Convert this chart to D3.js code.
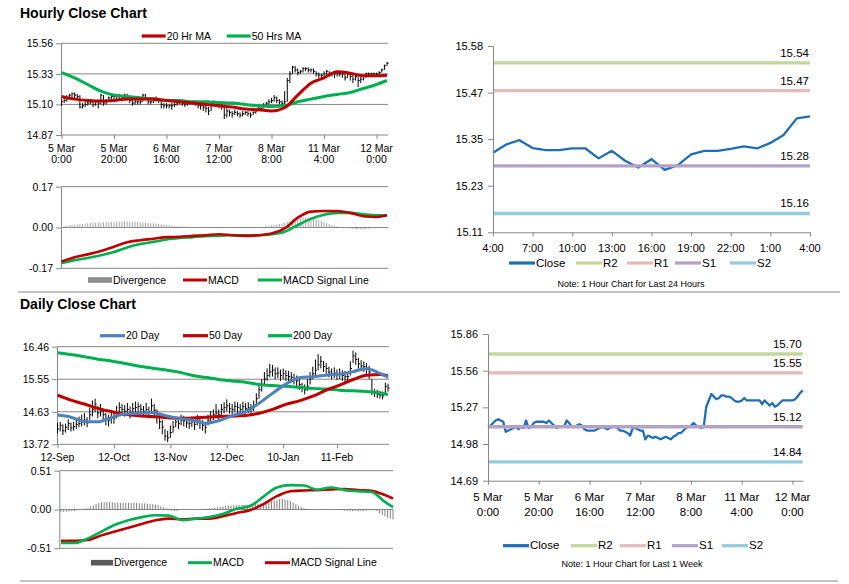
<!DOCTYPE html>
<html><head><meta charset="utf-8">
<script src="https://cdn.jsdelivr.net/npm/d3@7"></script>
<style>body{margin:0;background:#fff}svg{display:block}</style>
</head><body><svg id="c" width="849" height="584"></svg>
<script>
// ---------------- DATA ----------------
// Hourly (last week, 125 hourly bars)
const hourTickIdx = [0, 20, 40, 60, 80, 100, 120];
const hourTickLabels = [["5 Mar","0:00"],["5 Mar","20:00"],["6 Mar","16:00"],["7 Mar","12:00"],["8 Mar","8:00"],["11 Mar","4:00"],["12 Mar","0:00"]];
const weekClose = [15.12,15.13,15.15,15.17,15.18,15.17,15.16,15.08,15.09,15.10,
15.11,15.12,15.10,15.12,15.11,15.17,15.11,15.12,15.15,15.16,
15.16,15.16,15.16,15.15,15.17,15.15,15.13,15.11,15.12,15.12,
15.12,15.17,15.15,15.12,15.12,15.13,15.14,15.13,15.10,15.09,
15.09,15.09,15.09,15.10,15.11,15.12,15.11,15.10,15.11,15.12,
15.12,15.11,15.09,15.09,15.08,15.07,15.05,15.11,15.11,15.10,
15.09,15.09,15.02,15.05,15.04,15.03,15.04,15.03,15.02,15.03,
15.04,15.03,15.02,15.04,15.05,15.07,15.07,15.09,15.11,15.12,
15.13,15.15,15.13,15.12,15.11,15.12,15.28,15.33,15.38,15.36,
15.34,15.35,15.37,15.37,15.36,15.36,15.35,15.33,15.32,15.32,
15.33,15.35,15.33,15.33,15.33,15.33,15.33,15.33,15.30,15.33,
15.31,15.29,15.31,15.28,15.29,15.31,15.33,15.33,15.33,15.33,
15.33,15.34,15.36,15.39,15.41];
const hourHigh = [15.14,15.15,15.17,15.18,15.19,15.19,15.18,15.17,15.11,15.12,
15.13,15.14,15.13,15.13,15.13,15.18,15.17,15.14,15.16,15.17,
15.18,15.17,15.18,15.17,15.18,15.18,15.16,15.14,15.14,15.13,
15.14,15.18,15.18,15.15,15.14,15.15,15.16,15.15,15.13,15.11,
15.11,15.10,15.11,15.11,15.12,15.13,15.13,15.12,15.12,15.13,
15.13,15.13,15.12,15.10,15.10,15.09,15.08,15.12,15.13,15.12,
15.11,15.11,15.10,15.07,15.06,15.05,15.06,15.05,15.04,15.05,
15.05,15.05,15.04,15.05,15.07,15.08,15.09,15.11,15.12,15.14,
15.15,15.17,15.16,15.14,15.13,15.20,15.30,15.35,15.39,15.39,
15.37,15.36,15.38,15.38,15.38,15.37,15.37,15.35,15.34,15.33,
15.35,15.36,15.35,15.34,15.34,15.35,15.34,15.34,15.33,15.34,
15.33,15.32,15.32,15.31,15.31,15.32,15.34,15.34,15.34,15.34,
15.34,15.35,15.37,15.40,15.42];
const hourLow = [15.09,15.11,15.12,15.14,15.15,15.14,15.14,15.07,15.07,15.08,
15.09,15.10,15.08,15.09,15.07,15.10,15.09,15.10,15.12,15.13,
15.14,15.14,15.13,15.13,15.14,15.13,15.11,15.09,15.10,15.10,
15.10,15.12,15.13,15.10,15.10,15.11,15.12,15.11,15.07,15.07,
15.07,15.07,15.06,15.08,15.09,15.10,15.09,15.08,15.09,15.10,
15.10,15.09,15.07,15.06,15.05,15.04,15.02,15.05,15.09,15.08,
15.07,15.06,14.99,15.00,15.01,15.00,15.02,15.01,15.00,15.01,
15.02,15.01,15.00,15.02,15.03,15.05,15.05,15.07,15.09,15.10,
15.11,15.12,15.11,15.10,15.09,15.10,15.12,15.26,15.33,15.34,
15.32,15.33,15.34,15.35,15.34,15.34,15.33,15.31,15.30,15.30,
15.31,15.32,15.31,15.31,15.30,15.31,15.31,15.30,15.28,15.30,
15.28,15.26,15.28,15.23,15.26,15.28,15.30,15.31,15.31,15.31,
15.31,15.32,15.34,15.36,15.39];
// moving averages / MACD sampled every 5 hours
const hourSampleIdx = [0,5,10,15,20,25,30,35,40,45,50,55,60,65,70,75,80,85,90,95,100,105,110,115,120,124];
const ma20h = [15.16,15.14,15.13,15.125,15.13,15.14,15.14,15.14,15.13,15.12,15.11,15.10,15.09,15.08,15.065,15.06,15.05,15.075,15.17,15.26,15.30,15.345,15.335,15.315,15.315,15.32];
const ma50h = [15.34,15.30,15.25,15.20,15.17,15.16,15.15,15.14,15.13,15.13,15.12,15.12,15.115,15.11,15.10,15.09,15.085,15.09,15.12,15.14,15.16,15.175,15.19,15.22,15.25,15.28];
const macdH = [-0.142,-0.124,-0.112,-0.098,-0.080,-0.061,-0.053,-0.047,-0.040,-0.039,-0.035,-0.032,-0.028,-0.032,-0.035,-0.032,-0.025,-0.004,0.041,0.066,0.069,0.069,0.061,0.047,0.044,0.051];
const signalH = [-0.148,-0.136,-0.127,-0.116,-0.102,-0.083,-0.069,-0.060,-0.050,-0.044,-0.040,-0.036,-0.035,-0.032,-0.032,-0.032,-0.028,-0.018,0.010,0.036,0.053,0.061,0.061,0.055,0.051,0.051];
const divH = [0.004,0.006,0.008,0.010,0.011,0.012,0.013,0.014,0.015,0.016,
0.018,0.019,0.020,0.020,0.021,0.021,0.022,0.022,0.023,0.023,
0.024,0.025,0.025,0.026,0.026,0.025,0.025,0.024,0.024,0.023,
0.022,0.021,0.020,0.019,0.018,0.017,0.016,0.015,0.013,0.012,
0.010,0.009,0.008,0.007,0.006,0.005,0.004,0.004,0.003,0.003,
0.002,0.002,0.002,0.003,0.003,0.002,0.001,0.002,0.003,0.002,
0.001,0.000,-0.001,-0.002,-0.002,-0.002,-0.003,-0.002,-0.002,-0.002,
-0.001,-0.001,0.000,0.001,0.001,0.002,0.002,0.003,0.005,0.007,
0.009,0.011,0.013,0.015,0.017,0.019,0.024,0.028,0.032,0.035,
0.038,0.040,0.042,0.043,0.044,0.042,0.039,0.035,0.031,0.027,
0.023,0.019,0.015,0.011,0.008,0.005,0.002,0.000,-0.002,-0.003,
-0.005,-0.006,-0.007,-0.008,-0.008,-0.008,-0.007,-0.006,-0.005,-0.004,
-0.003,-0.002,-0.002,-0.001,0.000];
const hourPriceTicks = [14.87, 15.10, 15.33, 15.56];
const hourPriceLabels = ["14.87","15.10","15.33","15.56"];
const hourMacdTicks = [-0.17, 0, 0.17];
const hourMacdLabels = ["-0.17","0.00","0.17"];

// Last 24 hours
const dayClose = [15.313,15.334,15.345,15.325,15.320,15.320,15.324,15.324,15.299,15.318,15.293,15.276,15.297,15.270,15.282,15.309,15.318,15.318,15.323,15.329,15.324,15.338,15.358,15.400,15.405];
const dayTickIdx = [0,3,6,9,12,15,18,21,24];
const dayTickLabels = ["4:00","7:00","10:00","13:00","16:00","19:00","22:00","1:00","4:00"];
const pivotNames = ["R2","R1","S1","S2"];
const pivot24 = [15.54, 15.47, 15.28, 15.16];
const pivotWeek = [15.70, 15.55, 15.12, 14.84];
const pivot24Ticks = [15.1125, 15.23, 15.3475, 15.465, 15.5825];
const pivot24Labels = ["15.11","15.23","15.35","15.47","15.58"];
const pivotWeekTicks = [14.69, 14.9825, 15.275, 15.5675, 15.86];
const pivotWeekLabels = ["14.69","14.98","15.27","15.56","15.86"];

// Daily (124 sessions)
const dailyTickIdx = [0, 21, 42, 63, 84, 104];
const dailyTickLabels = ["12-Sep","12-Oct","13-Nov","12-Dec","10-Jan","11-Feb"];
const dailyClose = [14.15,14.25,14.10,14.20,14.30,14.18,14.22,14.28,14.30,14.35,
14.40,14.32,14.55,14.70,14.85,14.60,14.65,14.55,14.45,14.40,
14.50,14.45,14.60,14.75,14.70,14.65,14.70,14.60,14.72,14.75,
14.78,14.70,14.65,14.70,14.60,14.80,14.68,14.50,14.35,14.20,
13.95,13.90,14.05,14.20,14.35,14.30,14.40,14.38,14.32,14.30,
14.35,14.28,14.40,14.30,14.25,14.20,14.40,14.50,14.55,14.60,
14.55,14.70,14.75,14.80,14.72,14.70,14.78,14.75,14.70,14.78,
14.72,14.75,14.70,14.80,15.00,15.25,15.40,15.55,15.65,15.75,
15.80,15.70,15.72,15.65,15.70,15.65,15.62,15.60,15.55,15.50,
15.40,15.30,15.25,15.35,15.55,15.70,15.80,15.95,16.05,15.90,
15.85,15.75,15.70,15.72,15.68,15.70,15.65,15.62,15.62,15.85,
16.20,16.10,15.98,15.92,15.90,15.85,15.75,15.20,15.15,15.12,
15.10,15.08,15.35,15.30];
const dailyHigh = [14.32,14.35,14.28,14.30,14.42,14.33,14.35,14.45,14.50,14.55,
14.60,14.48,14.75,14.95,15.00,14.80,14.85,14.72,14.60,14.55,
14.65,14.62,14.80,14.90,14.85,14.82,14.88,14.78,14.88,14.92,
14.90,14.85,14.80,14.88,14.78,15.00,14.85,14.70,14.55,14.40,
14.15,14.10,14.25,14.38,14.50,14.45,14.55,14.52,14.48,14.45,
14.50,14.42,14.55,14.45,14.40,14.35,14.55,14.65,14.70,14.85,
14.70,14.85,14.90,14.98,14.88,14.85,14.92,14.90,14.85,14.92,
14.88,14.90,14.85,14.95,15.15,15.40,15.55,15.75,15.85,15.98,
15.95,15.88,15.88,15.82,15.85,15.80,15.78,15.75,15.70,15.65,
15.55,15.45,15.40,15.55,15.75,15.90,16.10,16.25,16.20,16.05,
16.00,15.90,15.85,15.88,15.82,15.85,15.80,15.78,15.75,16.05,
16.35,16.30,16.15,16.08,16.05,16.00,15.92,15.55,15.28,15.25,
15.22,15.20,15.45,15.42];
const dailyLow = [14.02,14.08,13.98,14.05,14.12,14.08,14.10,14.15,14.20,14.22,
14.25,14.20,14.40,14.50,14.62,14.45,14.50,14.40,14.25,14.22,
14.30,14.30,14.45,14.55,14.55,14.50,14.52,14.45,14.55,14.58,
14.60,14.55,14.48,14.55,14.45,14.62,14.45,14.30,14.15,14.00,
13.82,13.78,13.90,14.05,14.20,14.15,14.25,14.22,14.18,14.15,
14.20,14.12,14.25,14.15,14.10,14.02,14.25,14.35,14.40,14.45,
14.40,14.55,14.60,14.65,14.58,14.55,14.62,14.60,14.58,14.62,
14.58,14.60,14.58,14.65,14.80,15.00,15.20,15.40,15.50,15.60,
15.62,15.55,15.58,15.50,15.55,15.50,15.48,15.45,15.40,15.35,
15.25,15.18,15.12,15.22,15.40,15.55,15.65,15.80,15.85,15.75,
15.70,15.60,15.55,15.58,15.52,15.55,15.50,15.45,15.48,15.65,
16.00,15.95,15.85,15.78,15.75,15.70,15.55,15.10,15.05,15.02,
15.00,14.98,15.15,15.20];
const dailySampleIdx = [0,5,10,15,20,25,30,35,40,45,50,55,60,65,70,75,80,85,90,95,100,105,110,115,120,123];
const ma20d = [14.54,14.48,14.36,14.35,14.47,14.57,14.59,14.61,14.53,14.45,14.40,14.31,14.38,14.52,14.64,14.87,15.15,15.41,15.59,15.62,15.66,15.69,15.76,15.85,15.71,15.60];
const ma50d = [15.10,14.96,14.85,14.73,14.64,14.56,14.52,14.50,14.47,14.45,14.46,14.48,14.50,14.51,14.53,14.59,14.70,14.84,14.94,15.07,15.24,15.38,15.54,15.66,15.68,15.64];
const ma200d = [16.29,16.24,16.18,16.11,16.06,15.99,15.92,15.86,15.81,15.75,15.66,15.60,15.54,15.50,15.46,15.40,15.37,15.35,15.32,15.29,15.27,15.24,15.22,15.20,15.16,15.12];
const macdD = [-0.44,-0.44,-0.38,-0.29,-0.20,-0.14,-0.10,-0.075,-0.08,-0.14,-0.12,-0.10,-0.06,0.01,0.045,0.17,0.29,0.32,0.315,0.26,0.29,0.255,0.24,0.23,0.10,0.03];
const signalD = [-0.41,-0.41,-0.40,-0.34,-0.29,-0.24,-0.19,-0.14,-0.12,-0.13,-0.12,-0.12,-0.09,-0.045,-0.01,0.07,0.175,0.24,0.25,0.255,0.265,0.27,0.255,0.245,0.19,0.145];
const divD = [-0.03,-0.03,-0.03,-0.028,-0.025,-0.02,
-0.01,0.005,0.01,0.015,0.02,
0.04,0.055,0.07,0.085,0.095,0.10,
0.10,0.098,0.095,0.09,0.09,0.088,0.09,0.088,0.09,0.085,0.088,0.085,0.082,0.08,0.08,0.075,0.072,0.07,0.065,0.06,
0.045,0.03,0.015,0.0,
-0.015,-0.02,-0.02,-0.01,
0.0,0.002,0.004,0.005,0.005,0.006,0.006,0.008,0.01,0.012,0.015,0.02,
0.025,0.03,0.035,0.04,0.045,0.05,0.05,0.055,0.055,0.06,0.06,0.058,0.06,0.062,0.065,
0.07,0.075,0.08,0.088,0.095,0.10,0.11,0.12,0.128,0.135,0.14,
0.135,0.125,0.11,0.09,0.07,0.05,0.035,0.02,0.01,
0.005,0.003,0.002,0.004,0.006,0.008,0.008,0.006,0.004,0.002,0.0,-0.005,-0.01,
-0.015,-0.02,-0.02,-0.022,-0.02,-0.02,-0.018,-0.02,-0.015,-0.01,
-0.01,-0.012,-0.02,
-0.05,-0.07,-0.09,-0.11,-0.12,-0.13];
const dailyPriceTicks = [13.72, 14.6333, 15.5467, 16.46];
const dailyPriceLabels = ["13.72","14.63","15.55","16.46"];
const dailyMacdTicks = [-0.51, 0, 0.51];
const dailyMacdLabels = ["-0.51","0.00","0.51"];

// ---------------- DRAWING ----------------
const F = '"Liberation Sans", Arial, Helvetica, sans-serif';
const svg = d3.select("#c");
const AX = "#868686";
const RED = "#c00000", GREEN = "#00b050", BLUE = "#4f81bd";
const PCOL = {Close:"#1f6db5", R2:"#c3d69b", R1:"#e6b9b8", S1:"#b3a2c7", S2:"#93cddd"};

function txt(x, y, s, o = {}) {
  return svg.append("text").attr("x", x).attr("y", y).text(s)
    .attr("font-family", F).attr("font-size", o.size || 10)
    .attr("font-weight", o.bold ? "bold" : "normal")
    .attr("text-anchor", o.anchor || "start").attr("fill", o.fill || "#000");
}
function styleAxis(g, fs) {
  g.attr("font-family", F).attr("font-size", fs);
  g.selectAll(".domain").attr("stroke", AX);
  g.selectAll(".tick line").attr("stroke", AX);
  g.selectAll(".tick text").attr("fill", "#000");
}
function leftAxis(y, x, vals, labels, fs, pad) {
  const g = svg.append("g").attr("transform", `translate(${x},0)`)
    .call(d3.axisLeft(y).tickValues(vals).tickFormat((d, i) => labels[i]).tickSize(5).tickSizeOuter(0).tickPadding(pad || 3));
  styleAxis(g, fs);
}
function grid(y, vals, x0, x1) {
  svg.append("g").selectAll("line").data(vals).join("line")
    .attr("x1", x0).attr("x2", x1).attr("y1", d => y(d)).attr("y2", d => y(d))
    .attr("stroke", AX).attr("stroke-width", 1);
}
function bottomTicks(x, yPos, idx) {
  const g = svg.append("g").attr("transform", `translate(0,${yPos})`)
    .call(d3.axisBottom(x).tickValues(idx).tickFormat("").tickSize(4).tickSizeOuter(0));
  styleAxis(g, 10);
  g.select(".domain").remove();
}
function legendLine(x, y, len, color, w, label, fs) {
  svg.append("line").attr("x1", x).attr("x2", x + len).attr("y1", y).attr("y2", y)
    .attr("stroke", color).attr("stroke-width", w);
  txt(x + len + 1, y + 3.6, label, {size: fs});
}
function legendBox(x, y, len, color, label, fs) {
  svg.append("rect").attr("x", x).attr("y", y - 2.8).attr("width", len).attr("height", 5.6).attr("fill", color);
  txt(x + len + 1, y + 3.6, label, {size: fs});
}
function bars(x, y, hi, lo, close, color) {
  const g = svg.append("g").attr("stroke", color).attr("stroke-width", 1);
  g.selectAll("line.v").data(hi).join("line").attr("class", "v")
    .attr("x1", (d, i) => x(i)).attr("x2", (d, i) => x(i))
    .attr("y1", (d, i) => y(lo[i])).attr("y2", (d, i) => y(d));
  g.selectAll("line.c").data(close).join("line").attr("class", "c")
    .attr("x1", (d, i) => x(i)).attr("x2", (d, i) => x(i) + 1.6)
    .attr("y1", d => y(d)).attr("y2", d => y(d));
}
function sampledLine(x, y, idx, vals, color, w) {
  svg.append("path").datum(vals)
    .attr("d", d3.line().x((d, k) => x(idx[k])).y(d => y(d)).curve(d3.curveMonotoneX))
    .attr("fill", "none").attr("stroke", color).attr("stroke-width", w).attr("stroke-linejoin", "round");
}
function divBars(x, y, vals, color) {
  svg.append("g").selectAll("line").data(vals).join("line")
    .attr("x1", (d, i) => x(i)).attr("x2", (d, i) => x(i))
    .attr("y1", y(0)).attr("y2", d => y(d))
    .attr("stroke", color).attr("stroke-width", 1);
}

// Titles & separators
txt(20, 17.5, "Hourly Close Chart", {size: 14, bold: true});
txt(20, 309, "Daily Close Chart", {size: 14, bold: true});
svg.append("line").attr("x1", 18).attr("x2", 840).attr("y1", 292).attr("y2", 292).attr("stroke", "#8a8a8a").attr("stroke-width", 1.2);
svg.append("line").attr("x1", 20).attr("x2", 838).attr("y1", 581).attr("y2", 581).attr("stroke", "#8a8a8a").attr("stroke-width", 1.2);

// ---- Panel 1: hourly price
{
  const x = d3.scaleLinear().domain([0, weekClose.length - 1]).range([61.5, 387]);
  const y = d3.scaleLinear().domain([14.87, 15.56]).range([135, 43.3]);
  grid(y, hourPriceTicks, 61, 388);
  leftAxis(y, 61, hourPriceTicks, hourPriceLabels, 10.5);
  bottomTicks(x, 135, hourTickIdx);
  hourTickIdx.forEach((t, k) => {
    txt(x(t), 151.7, hourTickLabels[k][0], {size: 10.5, anchor: "middle"});
    txt(x(t), 162.7, hourTickLabels[k][1], {size: 10.5, anchor: "middle"});
  });
  bars(x, y, hourHigh, hourLow, weekClose, "#000");
  sampledLine(x, y, hourSampleIdx, ma50h, GREEN, 3);
  sampledLine(x, y, hourSampleIdx, ma20h, RED, 3);
  legendLine(141.7, 36, 24, RED, 3.2, "20 Hr MA", 10.5);
  legendLine(226.7, 36, 24, GREEN, 3.2, "50 Hrs MA", 10.5);
}
// ---- Panel 2: hourly MACD
{
  const x = d3.scaleLinear().domain([0, divH.length - 1]).range([61.5, 387]);
  const y = d3.scaleLinear().domain([-0.17, 0.17]).range([268.3, 186.7]);
  grid(y, hourMacdTicks, 61, 388);
  leftAxis(y, 61, hourMacdTicks, hourMacdLabels, 10.5);
  divBars(x, y, divH, "#a6a6a6");
  sampledLine(x, y, hourSampleIdx, signalH, GREEN, 2.6);
  sampledLine(x, y, hourSampleIdx, macdH, RED, 2.6);
  legendBox(88, 280, 24, "#8c8c8c", "Divergence", 10.5);
  legendLine(183, 280, 24, RED, 3, "MACD", 10.5);
  legendLine(258, 280, 24, GREEN, 3, "MACD Signal Line", 10.5);
}
// ---- Pivot panels
function pivotPanel(c) {
  const x = d3.scaleLinear().domain([0, c.close.length - 1]).range([c.x0, c.x1]);
  const y = d3.scaleLinear().domain([c.ticks[0], c.ticks[c.ticks.length - 1]]).range([c.yBot, c.yTop]);
  svg.append("path").datum(c.close)
    .attr("d", d3.line().x((d, i) => x(i)).y(d => y(d)))
    .attr("fill", "none").attr("stroke", PCOL.Close).attr("stroke-width", 2.3).attr("stroke-linejoin", "round");
  c.levels.forEach((v, k) => {
    const name = pivotNames[k];
    svg.append("line").attr("x1", c.x0).attr("x2", c.x1).attr("y1", y(v)).attr("y2", y(v))
      .attr("stroke", PCOL[name]).attr("stroke-width", 3.4);
    txt(c.x1 - 1, y(v) - 6, d3.format(".2f")(v), {size: 11.5, anchor: "end"});
  });
  leftAxis(y, c.x0, c.ticks, c.tickLabels, 11, 5);
  const g = svg.append("g").attr("transform", `translate(0,${c.yBot})`)
    .call(d3.axisBottom(x).tickValues(c.xIdx).tickFormat("").tickSize(4).tickSizeOuter(0));
  styleAxis(g, 11);
  c.xIdx.forEach((t, k) => {
    const lab = c.xLabels[k];
    if (Array.isArray(lab)) {
      txt(x(t), c.xLabY, lab[0], {size: 11.5, anchor: "middle"});
      txt(x(t), c.xLabY + 15, lab[1], {size: 11.5, anchor: "middle"});
    } else txt(x(t), c.xLabY, lab, {size: 11, anchor: "middle"});
  });
  const names = ["Close"].concat(pivotNames);
  names.forEach((n, k) => legendLine(c.legX[k], c.legY, 26, PCOL[n], 3.2, n, 11.5));
  txt(c.noteX, c.noteY, c.note, {size: 9, anchor: "middle"});
}
pivotPanel({x0: 493, x1: 810, yTop: 46, yBot: 232.3, ticks: pivot24Ticks, tickLabels: pivot24Labels,
  close: dayClose, levels: pivot24, xIdx: dayTickIdx, xLabels: dayTickLabels, xLabY: 252,
  legX: [509, 576, 627, 675, 730], legY: 263, noteX: 631, noteY: 287, note: "Note: 1 Hour Chart for Last 24 Hours"});
pivotPanel({x0: 488, x1: 802.7, yTop: 334, yBot: 480.7, ticks: pivotWeekTicks, tickLabels: pivotWeekLabels,
  close: weekClose, levels: pivotWeek, xIdx: hourTickIdx, xLabels: hourTickLabels, xLabY: 500.6,
  legX: [503, 571, 620, 672, 722], legY: 545.7, noteX: 632, noteY: 567, note: "Note: 1 Hour Chart for Last 1 Week"});

// ---- Panel 4: daily price
{
  const x = d3.scaleLinear().domain([0, dailyClose.length - 1]).range([57.5, 388]);
  const y = d3.scaleLinear().domain([13.72, 16.46]).range([444.3, 346.7]);
  grid(y, dailyPriceTicks, 57, 389);
  leftAxis(y, 57, dailyPriceTicks, dailyPriceLabels, 10.5);
  bottomTicks(x, 444.3, dailyTickIdx);
  dailyTickIdx.forEach((t, k) => txt(x(t), 460.5, dailyTickLabels[k], {size: 10.5, anchor: "middle"}));
  bars(x, y, dailyHigh, dailyLow, dailyClose, "#000");
  sampledLine(x, y, dailySampleIdx, ma200d, GREEN, 3);
  sampledLine(x, y, dailySampleIdx, ma50d, RED, 3);
  sampledLine(x, y, dailySampleIdx, ma20d, BLUE, 3);
  legendLine(100, 335.7, 25, BLUE, 3.2, "20 Day", 10.5);
  legendLine(183, 335.7, 25, RED, 3.2, "50 Day", 10.5);
  legendLine(268, 335.7, 24, GREEN, 3.2, "200 Day", 10.5);
}
// ---- Panel 5: daily MACD
{
  const x = d3.scaleLinear().domain([0, divD.length - 1]).range([61, 393]);
  const y = d3.scaleLinear().domain([-0.51, 0.51]).range([548.3, 470.7]);
  grid(y, dailyMacdTicks, 59.3, 393);
  leftAxis(y, 59.3, dailyMacdTicks, dailyMacdLabels, 10.5);
  divBars(x, y, divD, "#7f7f7f");
  sampledLine(x, y, dailySampleIdx, signalD, RED, 2.6);
  sampledLine(x, y, dailySampleIdx, macdD, GREEN, 2.6);
  legendBox(91, 562.7, 22, "#595959", "Divergence", 10.5);
  legendLine(188, 562.7, 24, GREEN, 3, "MACD", 10.5);
  legendLine(265, 562.7, 25, RED, 3, "MACD Signal Line", 10.5);
}
</script></body></html>
